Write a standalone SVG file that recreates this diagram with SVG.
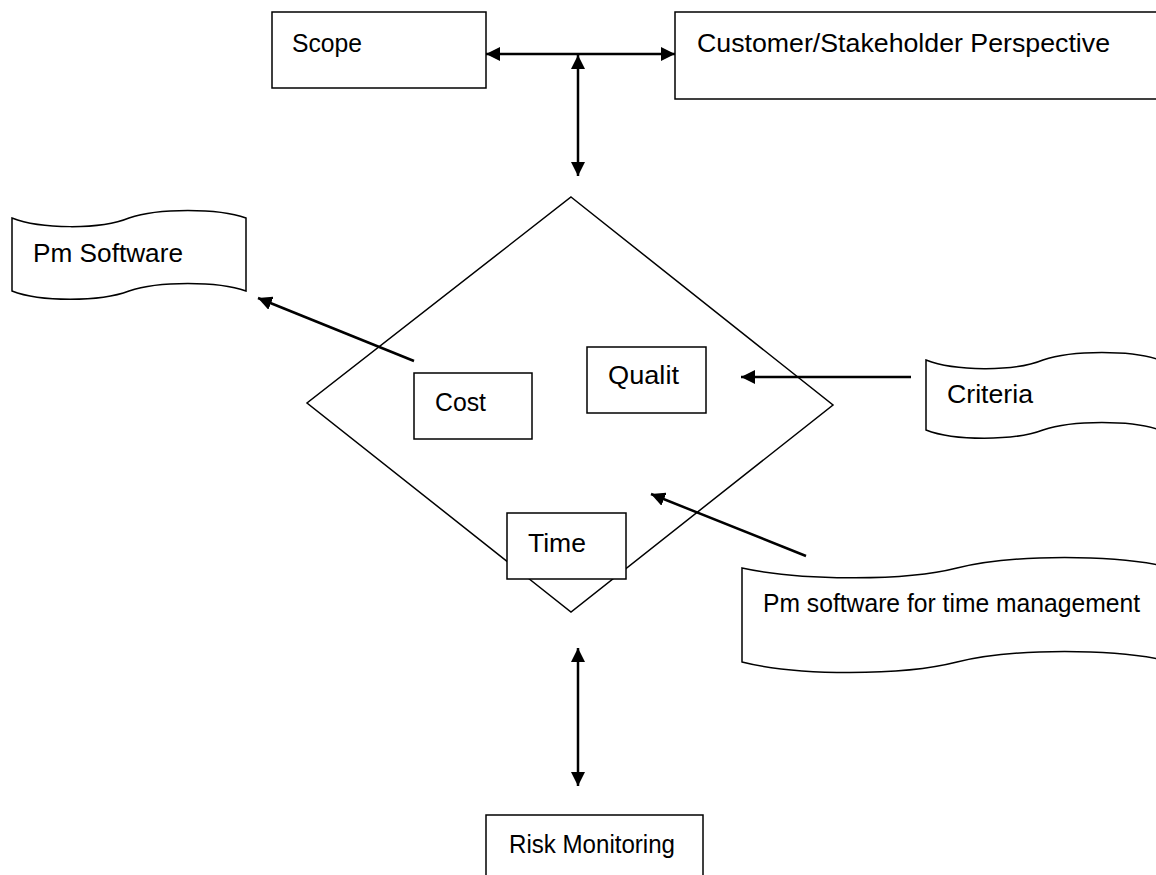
<svg xmlns="http://www.w3.org/2000/svg" width="1156" height="875" viewBox="0 0 1156 875">
<style>
  .box { fill: #ffffff; stroke: #000000; stroke-width: 1.5; }
  .tape { fill: #ffffff; stroke: #000000; stroke-width: 1.5; }
  .lbl { font-family: "Liberation Sans", Arial, sans-serif; font-size: 25px; fill: #000000; }
  .conn { stroke: #000000; stroke-width: 2.5; fill: none; }
</style>
<defs>
  <marker id="ah" viewBox="0 0 14 14" refX="14" refY="7" markerWidth="14" markerHeight="14" markerUnits="userSpaceOnUse" orient="auto-start-reverse">
    <path d="M0,0 L14,7 L0,14 Z" fill="#000000"/>
  </marker>
</defs>
<rect width="1156" height="875" fill="#ffffff"/>

<g id="diamond">
  <polygon class="box" points="571,197 833,405 571,612 307,403"/>
</g>

<g id="connectors">
  <line class="conn" x1="486" y1="54" x2="675" y2="54" marker-start="url(#ah)" marker-end="url(#ah)"/>
  <line class="conn" x1="578" y1="55" x2="578" y2="176" marker-start="url(#ah)" marker-end="url(#ah)"/>
  <line class="conn" x1="414" y1="361" x2="258" y2="298" marker-end="url(#ah)"/>
  <line class="conn" x1="911" y1="377" x2="741" y2="377" marker-end="url(#ah)"/>
  <line class="conn" x1="806" y1="556" x2="651" y2="494" marker-end="url(#ah)"/>
  <line class="conn" x1="578" y1="648" x2="578" y2="786" marker-start="url(#ah)" marker-end="url(#ah)"/>
</g>

<g id="scope">
  <rect class="box" x="272" y="12" width="214" height="76"/>
  <text class="lbl" x="292" y="52" textLength="70" lengthAdjust="spacingAndGlyphs">Scope</text>
</g>

<g id="customer">
  <rect class="box" x="675" y="12" width="490" height="87"/>
  <text class="lbl" x="697" y="52" textLength="413" lengthAdjust="spacingAndGlyphs">Customer/Stakeholder Perspective</text>
</g>

<g id="pm-software">
  <path class="tape" d="M12,218 C40,229 100,230 129,218 C158,208 218,208 246,218 L246,291 C218,281 158,281 129,291 C100,302 40,302 12,291 Z"/>
  <text class="lbl" x="33" y="262" textLength="150" lengthAdjust="spacingAndGlyphs">Pm Software</text>
</g>

<g id="cost">
  <rect class="box" x="414" y="373" width="118" height="66"/>
  <text class="lbl" x="435" y="411" textLength="51" lengthAdjust="spacingAndGlyphs">Cost</text>
</g>

<g id="quality">
  <rect class="box" x="587" y="347" width="119" height="66"/>
  <text class="lbl" x="608" y="384" textLength="71" lengthAdjust="spacingAndGlyphs">Qualit</text>
</g>

<g id="criteria">
  <path class="tape" d="M926,360 C954,371 1014,372 1043,360 C1072,350 1132,350 1160,360 L1160,430 C1132,420 1072,420 1043,430 C1014,441 954,441 926,430 Z"/>
  <text class="lbl" x="947" y="403" textLength="86" lengthAdjust="spacingAndGlyphs">Criteria</text>
</g>

<g id="time">
  <rect class="box" x="507" y="513" width="119" height="66"/>
  <text class="lbl" x="528" y="552" textLength="58" lengthAdjust="spacingAndGlyphs">Time</text>
</g>

<g id="pm-software-time">
  <path class="tape" d="M742,568 C797,580 902,582 957,568 C1012,554 1117,554 1172,568 L1172,662 C1117,648 1012,648 957,662 C902,676 797,676 742,662 Z"/>
  <text class="lbl" x="763" y="612" textLength="377" lengthAdjust="spacingAndGlyphs">Pm software for time management</text>
</g>

<g id="risk">
  <rect class="box" x="486" y="815" width="217" height="80"/>
  <text class="lbl" x="509" y="853" textLength="166" lengthAdjust="spacingAndGlyphs">Risk Monitoring</text>
</g>
</svg>
